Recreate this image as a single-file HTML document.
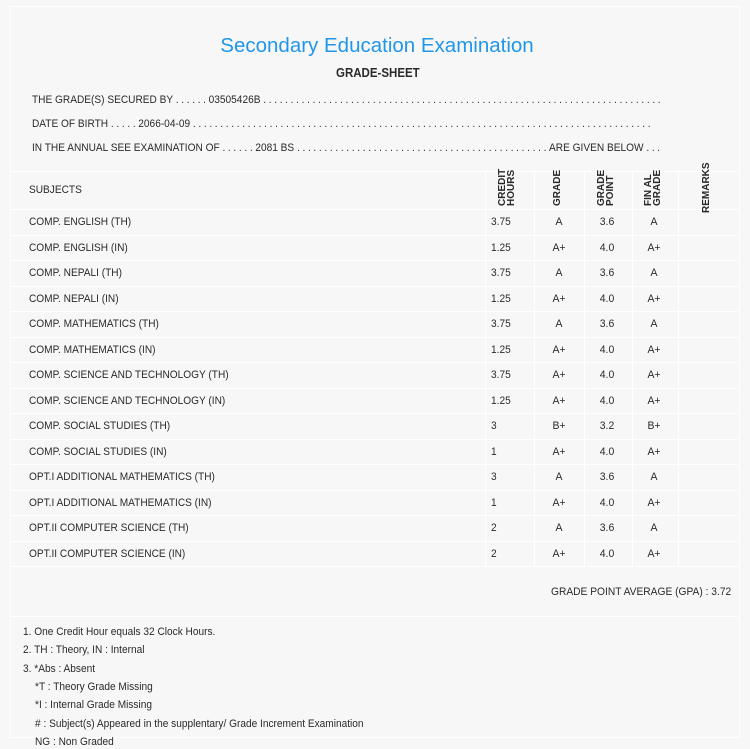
<!DOCTYPE html>
<html><head><meta charset="utf-8"><style>
html,body{margin:0;padding:0;background:#f7f7f7;width:750px;height:744px;overflow:hidden;font-family:"Liberation Sans",sans-serif;color:#2a2a2a;}
.card{position:absolute;left:10px;top:6px;width:728px;height:730px;border:1px solid #fff;}
.t{position:absolute;white-space:nowrap;font-size:11px;transform-origin:0 50%;transform:scaleX(.92);line-height:14px;}
.d{letter-spacing:2.9px;}
.c{position:absolute;white-space:nowrap;font-size:11px;line-height:14px;transform:translateX(-50%) scaleX(.95);}
.h{position:absolute;background:#fff;height:1px;}
.v{position:absolute;background:#fff;width:1px;}
.rot{position:absolute;font-size:10px;font-weight:bold;line-height:9px;transform:rotate(-90deg);transform-origin:0 0;text-align:left;white-space:nowrap;}
</style></head><body>
<div class="card"></div>
<div style="position:absolute;left:0;width:754px;top:34px;text-align:center;color:#2196e8;font-size:20.5px;">Secondary Education Examination</div>
<div class="t" style="left:336px;top:66px;font-size:12.5px;font-weight:bold;">GRADE-SHEET</div>
<div class="t" style="left:32px;top:93px;">THE GRADE(S) SECURED BY <span class="d">......</span>03505426B <span class="d">.........................................................................</span></div>
<div class="t" style="left:32px;top:117px;">DATE OF BIRTH <span class="d">.....</span>2066-04-09 <span class="d">....................................................................................</span></div>
<div class="t" style="left:32px;top:141px;">IN THE ANNUAL SEE EXAMINATION OF <span class="d">......</span>2081 BS <span class="d">..............................................</span>ARE GIVEN BELOW <span class="d">...</span></div>
<div class="h" style="left:10px;width:728px;top:171px;"></div>
<div class="h" style="left:10px;width:728px;top:209px;"></div>
<div class="t" style="left:29px;top:183px;">SUBJECTS</div>
<div class="rot" style="left:498px;top:206px;">CREDIT<br>HOURS</div>
<div class="rot" style="left:553px;top:206px;">GRADE</div>
<div class="rot" style="left:597px;top:206px;">GRADE<br>POINT</div>
<div class="rot" style="left:644px;top:206px;">FIN AL<br>GRADE</div>
<div class="rot" style="left:702px;top:213px;">REMARKS</div>
<div class="v" style="left:485px;top:171px;height:395px;"></div>
<div class="v" style="left:534px;top:171px;height:395px;"></div>
<div class="v" style="left:584px;top:171px;height:395px;"></div>
<div class="v" style="left:632px;top:171px;height:395px;"></div>
<div class="v" style="left:678px;top:171px;height:395px;"></div>
<div id="rows"></div>
<div class="t" style="left:551px;top:585px;transform:scaleX(.93);">GRADE POINT AVERAGE (GPA) : 3.72</div>
<div class="h" style="left:10px;width:728px;top:616px;"></div>
<div class="t" style="left:23px;top:625px;">1. One Credit Hour equals 32 Clock Hours.</div>
<div class="t" style="left:23px;top:643px;">2. TH : Theory, IN : Internal</div>
<div class="t" style="left:23px;top:662px;">3. *Abs : Absent</div>
<div class="t" style="left:35px;top:680px;">*T : Theory Grade Missing</div>
<div class="t" style="left:35px;top:698px;">*I : Internal Grade Missing</div>
<div class="t" style="left:35px;top:717px;"># : Subject(s) Appeared in the supplentary/ Grade Increment Examination</div>
<div class="t" style="left:35px;top:735px;">NG : Non Graded</div>
<script>
var d=[["COMP. ENGLISH (TH)","3.75","A","3.6","A"],["COMP. ENGLISH (IN)","1.25","A+","4.0","A+"],["COMP. NEPALI (TH)","3.75","A","3.6","A"],["COMP. NEPALI (IN)","1.25","A+","4.0","A+"],["COMP. MATHEMATICS (TH)","3.75","A","3.6","A"],["COMP. MATHEMATICS (IN)","1.25","A+","4.0","A+"],["COMP. SCIENCE AND TECHNOLOGY (TH)","3.75","A+","4.0","A+"],["COMP. SCIENCE AND TECHNOLOGY (IN)","1.25","A+","4.0","A+"],["COMP. SOCIAL STUDIES (TH)","3","B+","3.2","B+"],["COMP. SOCIAL STUDIES (IN)","1","A+","4.0","A+"],["OPT.I ADDITIONAL MATHEMATICS (TH)","3","A","3.6","A"],["OPT.I ADDITIONAL MATHEMATICS (IN)","1","A+","4.0","A+"],["OPT.II COMPUTER SCIENCE (TH)","2","A","3.6","A"],["OPT.II COMPUTER SCIENCE (IN)","2","A+","4.0","A+"]];
var h="";
d.forEach(function(r,i){var y=209+i*25.5;var ty=y+6;
h+='<div class="t" style="left:29px;top:'+ty+'px;">'+r[0]+'</div>';
h+='<div class="t" style="left:491px;top:'+ty+'px;">'+r[1]+'</div>';
h+='<div class="c" style="left:559px;top:'+ty+'px;">'+r[2]+'</div>';
h+='<div class="c" style="left:607px;top:'+ty+'px;">'+r[3]+'</div>';
h+='<div class="c" style="left:654px;top:'+ty+'px;">'+r[4]+'</div>';
h+='<div class="h" style="left:10px;width:728px;top:'+Math.round(y+25.5)+'px;"></div>';});
document.getElementById("rows").innerHTML=h;
</script>
</body></html>
